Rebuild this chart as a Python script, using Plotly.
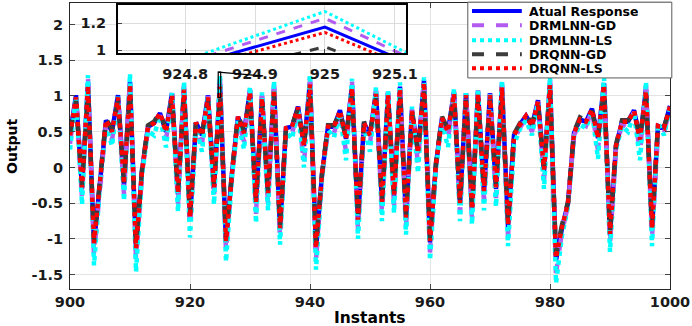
import plotly.graph_objects as go

instants = list(range(900, 1001))

actual = [0.45, 1.01, -0.30, 1.18, -1.08, -0.20, 0.66, 0.50, 1.01, -0.25,
          1.20, -1.15, -0.05, 0.57, 0.62, 0.76, 0.50, 1.04, -0.38, 1.12,
          -0.72, 0.63, 0.45, 1.01, -0.30, 1.17, -1.05, -0.08, 0.71, 0.48,
          1.08, -0.50, 1.00, -0.38, 1.12, -0.87, 0.55, 0.57, 0.85, 0.30,
          1.20, -1.15, -0.10, 0.57, 0.57, 0.80, 0.40, 1.15, -0.75, 0.62,
          0.45, 1.06, -0.50, 1.04, -0.40, 1.13, -0.72, 0.80, 0.20, 1.22,
          -1.05, 0.05, 0.69, 0.50, 1.06, -0.52, 1.04, -0.60, 1.06, -0.35,
          1.04, -0.30, 1.15, -0.83, 0.45, 0.60, 0.72, 0.58, 0.94, -0.05,
          1.18, -1.30, -0.85, -0.50, 0.48, 0.67, 0.64, 0.82, 0.41, 1.18,
          -0.95, 0.30, 0.64, 0.64, 0.80, 0.39, 1.10, -0.87, 0.58, 0.55,
          0.86]

drmlnn_gd = [0.33, 1.00, -0.43, 1.24, -1.22, -0.23, 0.62, 0.38, 1.00, -0.38,
             1.26, -1.30, -0.08, 0.53, 0.52, 0.73, 0.38, 1.03, -0.51, 1.16,
             -0.84, 0.59, 0.33, 1.00, -0.43, 1.235, -1.18, -0.11, 0.67, 0.36,
             1.10, -0.65, 1.02, -0.51, 1.17, -0.98, 0.52, 0.47, 0.82, 0.05,
             1.26, -1.30, -0.13, 0.54, 0.48, 0.78, 0.22, 1.20, -0.87, 0.58,
             0.33, 1.09, -0.64, 1.06, -0.53, 1.16, -0.83, 0.82, 0.05, 1.24,
             -1.19, 0.02, 0.65, 0.38, 1.08, -0.65, 1.05, -0.71, 1.08, -0.48,
             1.03, -0.43, 1.19, -0.96, 0.38, 0.56, 0.68, 0.50, 0.92, -0.18,
             1.23, -1.48, -0.90, -0.53, 0.45, 0.63, 0.58, 0.80, 0.24, 1.22,
             -1.07, 0.27, 0.60, 0.55, 0.78, 0.22, 1.15, -0.98, 0.48, 0.48,
             0.85]

drmlnn_ls = [0.25, 0.99, -0.52, 1.29, -1.37, -0.25, 0.60, 0.30, 0.99, -0.47,
             1.31, -1.46, -0.10, 0.51, 0.45, 0.72, 0.28, 1.04, -0.62, 1.19,
             -0.98, 0.57, 0.22, 0.99, -0.52, 1.285, -1.32, -0.13, 0.65, 0.25,
             1.13, -0.78, 1.05, -0.60, 1.21, -1.08, 0.50, 0.40, 0.80, 0.00,
             1.30, -1.43, -0.15, 0.52, 0.42, 0.77, 0.10, 1.24, -1.00, 0.56,
             0.22, 1.12, -0.75, 1.08, -0.64, 1.19, -0.94, 0.85, -0.08, 1.26,
             -1.30, 0.00, 0.63, 0.28, 1.10, -0.75, 1.07, -0.80, 1.10, -0.60,
             1.02, -0.55, 1.22, -1.10, 0.32, 0.54, 0.66, 0.45, 0.90, -0.30,
             1.27, -1.62, -0.95, -0.55, 0.43, 0.60, 0.55, 0.79, 0.12, 1.26,
             -1.18, 0.25, 0.58, 0.50, 0.77, 0.10, 1.20, -1.10, 0.62, 0.45,
             0.84]

drqnn_gd = [0.48, 0.93, -0.26, 1.05, -1.03, -0.18, 0.68, 0.53, 0.93, -0.21,
            1.07, -1.09, -0.03, 0.59, 0.64, 0.77, 0.53, 0.96, -0.34, 1.01,
            -0.67, 0.65, 0.48, 0.93, -0.26, 1.025, -1.00, -0.06, 0.73, 0.51,
            0.98, -0.46, 0.92, -0.34, 1.01, -0.82, 0.57, 0.59, 0.82, 0.33,
            1.07, -1.09, -0.08, 0.59, 0.59, 0.77, 0.43, 1.03, -0.70, 0.64,
            0.48, 0.97, -0.46, 0.95, -0.36, 1.02, -0.67, 0.76, 0.23, 1.10,
            -1.00, 0.07, 0.71, 0.53, 0.97, -0.48, 0.95, -0.56, 0.97, -0.31,
            0.95, -0.26, 1.04, -0.78, 0.47, 0.62, 0.74, 0.61, 0.88, 0.00,
            1.07, -1.22, -0.80, -0.48, 0.50, 0.70, 0.66, 0.79, 0.44, 1.07,
            -0.90, 0.32, 0.66, 0.66, 0.77, 0.42, 1.00, -0.82, 0.60, 0.57,
            0.83]

drqnn_ls = [0.45, 0.98, -0.28, 1.14, -1.06, -0.20, 0.66, 0.50, 0.98, -0.23,
            1.16, -1.13, -0.05, 0.57, 0.62, 0.76, 0.50, 1.01, -0.36, 1.09,
            -0.70, 0.63, 0.45, 0.98, -0.28, 1.13, -1.03, -0.08, 0.71, 0.48,
            1.05, -0.48, 0.97, -0.36, 1.09, -0.85, 0.55, 0.57, 0.84, 0.30,
            1.16, -1.13, -0.10, 0.57, 0.57, 0.79, 0.40, 1.11, -0.73, 0.62,
            0.45, 1.03, -0.48, 1.01, -0.38, 1.10, -0.70, 0.79, 0.20, 1.19,
            -1.03, 0.05, 0.69, 0.50, 1.03, -0.50, 1.01, -0.58, 1.03, -0.33,
            1.01, -0.28, 1.12, -0.81, 0.45, 0.60, 0.72, 0.58, 0.92, -0.03,
            1.15, -1.27, -0.84, -0.50, 0.48, 0.67, 0.64, 0.81, 0.41, 1.15,
            -0.93, 0.30, 0.64, 0.64, 0.79, 0.39, 1.07, -0.85, 0.58, 0.55,
            0.85]

series_names = ["Atual Response", "DRMLNN-GD", "DRMLNN-LS", "DRQNN-GD", "DRQNN-LS"]
series_values = [actual, drmlnn_gd, drmlnn_ls, drqnn_gd, drqnn_ls]
series_colors = ["#0000FF", "#B25BF0", "#00FFFF", "#3C3C3C", "#FF0000"]
series_dash = ["solid", "dash", "dot", "dash", "dot"]

x_ticks = [900, 920, 940, 960, 980, 1000]
y_ticks = [-1.5, -1, -0.5, 0, 0.5, 1, 1.5, 2]
y_tick_text = ["-1.5", "-1", "-0.5", "0", "0.5", "1", "1.5", "2"]
inset_x_ticks = [924.8, 924.9, 925, 925.1]
inset_x_text = ["924.8", "924.9", "925", "925.1"]
inset_y_ticks = [1, 1.2]
inset_y_text = ["1", "1.2"]
inset_x_range = [924.704, 925.116]
inset_y_range = [0.978, 1.333]

FONT = "DejaVu Sans"

fig = go.Figure()
for name, vals, col, dash in zip(series_names, series_values, series_colors, series_dash):
    fig.add_trace(go.Scatter(x=instants, y=vals, mode="lines", name=name,
                             line=dict(color=col, width=4.5, dash=dash),
                             showlegend=False, xaxis="x", yaxis="y"))
for name, vals, col, dash in zip(series_names, series_values, series_colors, series_dash):
    fig.add_trace(go.Scatter(x=instants, y=vals, mode="lines", name=name,
                             line=dict(color=col, width=3, dash=dash),
                             showlegend=False, xaxis="x2", yaxis="y2"))

tick_font = dict(family=FONT, size=14.5, color="#1a1a1a", weight="bold")

shapes = []
annotations = []
# zoom box and connector on main axes
shapes.append(dict(type="rect", xref="x", yref="y", x0=inset_x_range[0], x1=inset_x_range[1],
                   y0=inset_y_range[0], y1=inset_y_range[1], line=dict(color="black", width=1.2)))
shapes.append(dict(type="line", xref="x", yref="y", x0=inset_x_range[0], y0=inset_y_range[1],
                   x1=932.2, y1=1.28, line=dict(color="black", width=1.2)))

# manual legend
shapes.append(dict(type="rect", xref="paper", yref="paper", x0=0.663, x1=1.003, y0=0.738, y1=1.003,
                   fillcolor="white", line=dict(color="#5a5a5a", width=1), layer="above"))
row_y = [0.972, 0.922, 0.870, 0.821, 0.772]
for name, col, dash, yy in zip(series_names, series_colors, series_dash, row_y):
    shapes.append(dict(type="line", xref="paper", yref="paper", x0=0.670, x1=0.753, y0=yy, y1=yy,
                       line=dict(color=col, width=4, dash=dash), layer="above"))
    annotations.append(dict(xref="paper", yref="paper", x=0.762, y=yy, text=name, showarrow=False,
                            xanchor="left", yanchor="middle", height=14, valign="middle",
                            font=dict(family=FONT, size=12.5, color="black", weight="bold")))

annotations.append(dict(xref="paper", yref="paper", x=0.5, y=-0.101, text="Instants", showarrow=False,
                        xanchor="center", yanchor="middle",
                        font=dict(family=FONT, size=15.5, color="black", weight="bold")))
annotations.append(dict(xref="paper", yref="paper", x=-0.0967, y=0.5, text="Output", showarrow=False,
                        textangle=-90, xanchor="center", yanchor="middle",
                        font=dict(family=FONT, size=14, color="black", weight="bold")))

fig.update_layout(
    width=692, height=326,
    margin=dict(l=70, r=22, t=3, b=37),
    paper_bgcolor="white", plot_bgcolor="white",
    showlegend=False,
    xaxis=dict(range=[900, 1000], tickvals=x_ticks, ticks="inside", ticklen=5,
               showgrid=True, gridcolor="#e3e3e3", gridwidth=1, zeroline=False,
               showline=True, linecolor="#262626", linewidth=1, mirror="ticks",
               tickfont=tick_font, domain=[0, 1], anchor="y"),
    yaxis=dict(range=[-1.7, 2.3], tickvals=y_ticks, ticktext=y_tick_text, ticks="inside", ticklen=5,
               showgrid=True, gridcolor="#e3e3e3", gridwidth=1, zeroline=False,
               showline=True, linecolor="#262626", linewidth=1, mirror="ticks",
               tickfont=tick_font, ticklabelstandoff=3, domain=[0, 1], anchor="x"),
    xaxis2=dict(range=inset_x_range, tickvals=inset_x_ticks, ticktext=inset_x_text, ticks="inside",
                ticklen=4, showgrid=True, gridcolor="#dcdcdc", zeroline=False,
                showline=True, linecolor="black", linewidth=2, mirror=True,
                tickfont=tick_font, ticklabelstandoff=7, domain=[0.08, 0.56], anchor="y2"),
    yaxis2=dict(range=inset_y_range, tickvals=inset_y_ticks, ticktext=inset_y_text, ticks="inside",
                ticklen=4, showgrid=True, gridcolor="#dcdcdc", zeroline=False,
                showline=True, linecolor="black", linewidth=2, mirror=True,
                tickfont=tick_font, ticklabelstandoff=7, domain=[0.825, 0.993], anchor="x2"),
    shapes=shapes,
    annotations=annotations,
)

fig.write_html("out.html")
